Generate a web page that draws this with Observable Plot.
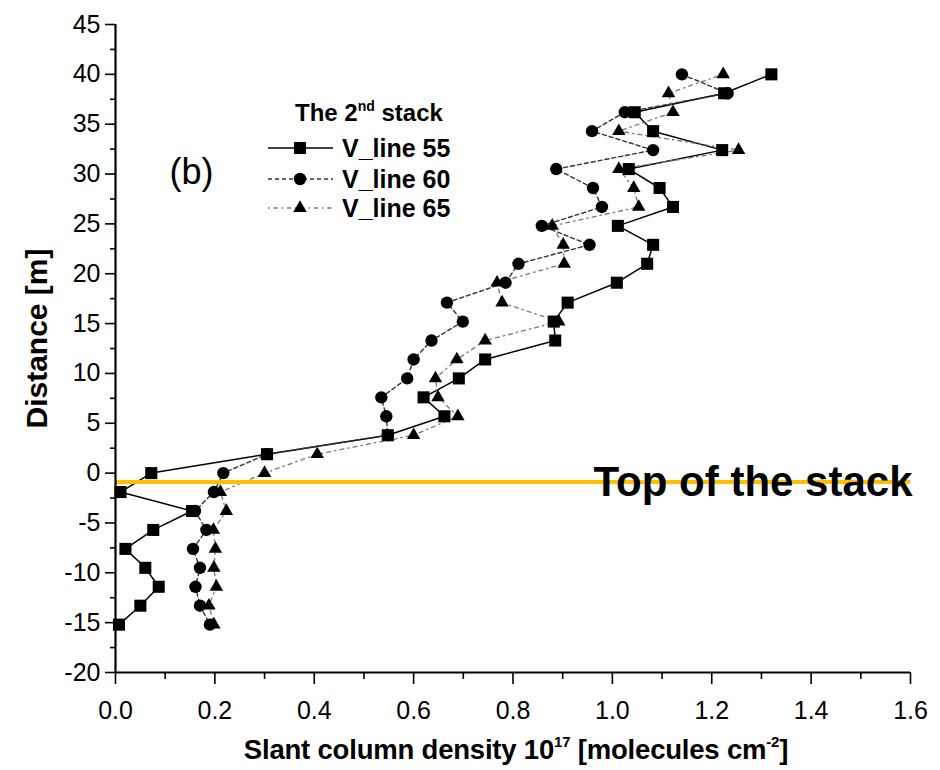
<!DOCTYPE html>
<html>
<head>
<meta charset="utf-8">
<script src="https://cdn.jsdelivr.net/npm/d3@7"></script>
<script src="https://cdn.jsdelivr.net/npm/@observablehq/plot@0.6"></script>
<style>
  body { margin: 0; background: #fff; }
  #chart { position: relative; width: 940px; height: 770px; font-family: "Liberation Sans", Arial, sans-serif; }
  #chart svg.plot { position: absolute; left: 0; top: 0; }
  #legend { position: absolute; left: 260px; top: 95px; }
  #xtitle { position: absolute; left: 116px; width: 800px; top: 734px; text-align: center;
            font-weight: bold; font-size: 27.5px; color: #000; white-space: nowrap; letter-spacing: -0.2px; }
  #xtitle sup { font-size: 15px; vertical-align: 0; position: relative; top: -12px; }
</style>
</head>
<body>
<div id="chart"></div>
<script>
// Distance along the vertical scan line [m]
const distance = [40.0, 38.1, 36.2, 34.3, 32.4, 30.5, 28.6, 26.7, 24.8, 22.9, 21.0, 19.1, 17.1, 15.2, 13.3,
                  11.4, 9.5, 7.6, 5.7, 3.8, 1.9, 0.0, -1.9, -3.8, -5.7, -7.6, -9.5, -11.4, -13.3, -15.2];
// Slant column density, 10^17 molecules cm^-2
const vline55 = [1.32, 1.225, 1.045, 1.082, 1.221, 1.033, 1.095, 1.122, 1.011, 1.082, 1.07, 1.009, 0.91, 0.882, 0.885,
                 0.744, 0.691, 0.62, 0.662, 0.548, 0.305, 0.072, 0.01, 0.154, 0.076, 0.02, 0.06, 0.087, 0.05, 0.007];
const vline60 = [1.14, 1.232, 1.025, 0.959, 1.082, 0.887, 0.961, 0.979, 0.858, 0.954, 0.811, 0.785, 0.667, 0.699, 0.636,
                 0.60, 0.587, 0.535, 0.545, 0.548, 0.305, 0.217, 0.198, 0.16, 0.183, 0.156, 0.17, 0.161, 0.17, 0.19];
const vline65 = [1.223, 1.113, 1.122, 1.013, 1.254, 1.013, 1.043, 1.053, 0.879, 0.901, 0.903, 0.768, 0.778, 0.892, 0.744,
                 0.687, 0.644, 0.649, 0.689, 0.60, 0.406, 0.30, 0.211, 0.223, 0.197, 0.201, 0.198, 0.203, 0.188, 0.198];
const seriesNames = ["V_line 55", "V_line 60", "V_line 65"];
const stackTop = -0.9;

const xDomain = [0, 1.6];
const yDomain = [-20, 45];
const xTicks = [0, 0.2, 0.4, 0.6, 0.8, 1.0, 1.2, 1.4, 1.6];
const xMinor = [0.1, 0.3, 0.5, 0.7, 0.9, 1.1, 1.3, 1.5];
const yTicks = [-20, -15, -10, -5, 0, 5, 10, 15, 20, 25, 30, 35, 40, 45];
const yMinor = [-17.5, -12.5, -7.5, -2.5, 2.5, 7.5, 12.5, 17.5, 22.5, 27.5, 32.5, 37.5, 42.5];

// Per-series drawing style
const styles = [
  {symbol: "square",   r: 6.8, stroke: "#000", dash: null,        width: 1.5},
  {symbol: "circle",   r: 6.2, stroke: "#333", dash: "4,3",       width: 1.4},
  {symbol: "triangle", r: 5.0, stroke: "#777", dash: "1.5,4,4,4", width: 1.3}
];

const rows = [vline55, vline60, vline65].map((vals, i) =>
  vals.map((v, j) => ({series: seriesNames[i], x: v, y: distance[j]})));

const font = '"Liberation Sans", Arial, sans-serif';

const marks = [];
rows.forEach((data, i) => {
  const s = styles[i];
  marks.push(Plot.line(data, {x: "x", y: "y", stroke: s.stroke, strokeWidth: s.width,
                              strokeDasharray: s.dash ?? undefined}));
});
rows.forEach((data, i) => {
  const s = styles[i];
  marks.push(Plot.dot(data, {x: "x", y: "y", symbol: s.symbol, r: s.r, fill: "#000", stroke: "none"}));
});

const plot = Plot.plot({
  width: 940,
  height: 770,
  marginLeft: 115,
  marginRight: 30,
  marginTop: 24,
  marginBottom: 98,
  style: {fontFamily: font, background: "#fff", color: "#000"},
  x: {domain: xDomain, label: null},
  y: {domain: yDomain, label: null},
  marks: [
    ...marks,
    // stack top marker
    Plot.ruleY([stackTop], {x1: xDomain[0], x2: xDomain[1], stroke: "#FFC000", strokeWidth: 4}),
    Plot.text([stackTop], {x: xDomain[1], y: d => d, text: () => "Top of the stack", dx: 2,
                           textAnchor: "end", lineAnchor: "middle", fontSize: 42, fontWeight: "bold", fill: "#000"}),
    // axes
    Plot.axisY(yTicks, {tickSize: 10, tickPadding: 5, fontSize: 25, strokeWidth: 1.6, tickFormat: d => `${d}`}),
    Plot.axisY(yMinor, {tickSize: 5, strokeWidth: 1.6, tickFormat: () => ""}),
    Plot.axisX(xTicks, {tickSize: 12, tickPadding: 17, fontSize: 25, strokeWidth: 1.6, tickFormat: d3.format(".1f")}),
    Plot.axisX(xMinor, {tickSize: 7, strokeWidth: 1.6, tickFormat: () => ""}),
    Plot.ruleX([xDomain[0]], {strokeWidth: 2.2}),
    Plot.ruleY([yDomain[0]], {x1: xDomain[0], x2: xDomain[1], strokeWidth: 2.2}),
    Plot.text(["Distance [m]"], {frameAnchor: "left", dx: -78, dy: -10, rotate: -90,
                                 textAnchor: "middle", lineAnchor: "middle",
                                 fontSize: 30, fontWeight: "bold", fill: "#000"}),
    Plot.text(["(b)"], {frameAnchor: "top-left", dx: 54, dy: 159, lineAnchor: "bottom",
                        textAnchor: "start", fontSize: 36, fill: "#000"})
  ]
});
plot.classList.add("plot");

const chart = document.getElementById("chart");
chart.appendChild(plot);

// Legend
const lg = d3.select(chart).append("svg").attr("id", "legend")
  .attr("width", 220).attr("height", 130)
  .style("font-family", font);
const title = lg.append("text").attr("x", 35).attr("y", 26)
  .attr("font-size", 24).attr("font-weight", "bold");
title.append("tspan").text("The 2");
title.append("tspan").attr("font-size", 14).attr("dy", -10).text("nd");
title.append("tspan").attr("dy", 10).text(" stack");

const rowY = [53, 84, 113];
seriesNames.forEach((name, i) => {
  const s = styles[i];
  const g = lg.append("g").attr("transform", `translate(0,${rowY[i]})`);
  g.append("line").attr("x1", 8).attr("x2", 73).attr("y1", 0).attr("y2", 0)
    .attr("stroke", s.stroke).attr("stroke-width", s.width)
    .attr("stroke-dasharray", s.dash);
  g.append("path").attr("transform", "translate(40,0)")
    .attr("d", d3.symbol(s.symbol === "square" ? d3.symbolSquare : s.symbol === "circle" ? d3.symbolCircle : d3.symbolTriangle,
                         Math.PI * s.r * s.r)())
    .attr("fill", "#000");
  g.append("text").attr("x", 82).attr("y", 9).attr("font-size", 25).attr("font-weight", "bold").text(name);
});

// x-axis title
const xt = document.createElement("div");
xt.id = "xtitle";
xt.innerHTML = "Slant column density 10<sup>17</sup> [molecules cm<sup>-2</sup>]";
chart.appendChild(xt);
</script>
</body>
</html>
